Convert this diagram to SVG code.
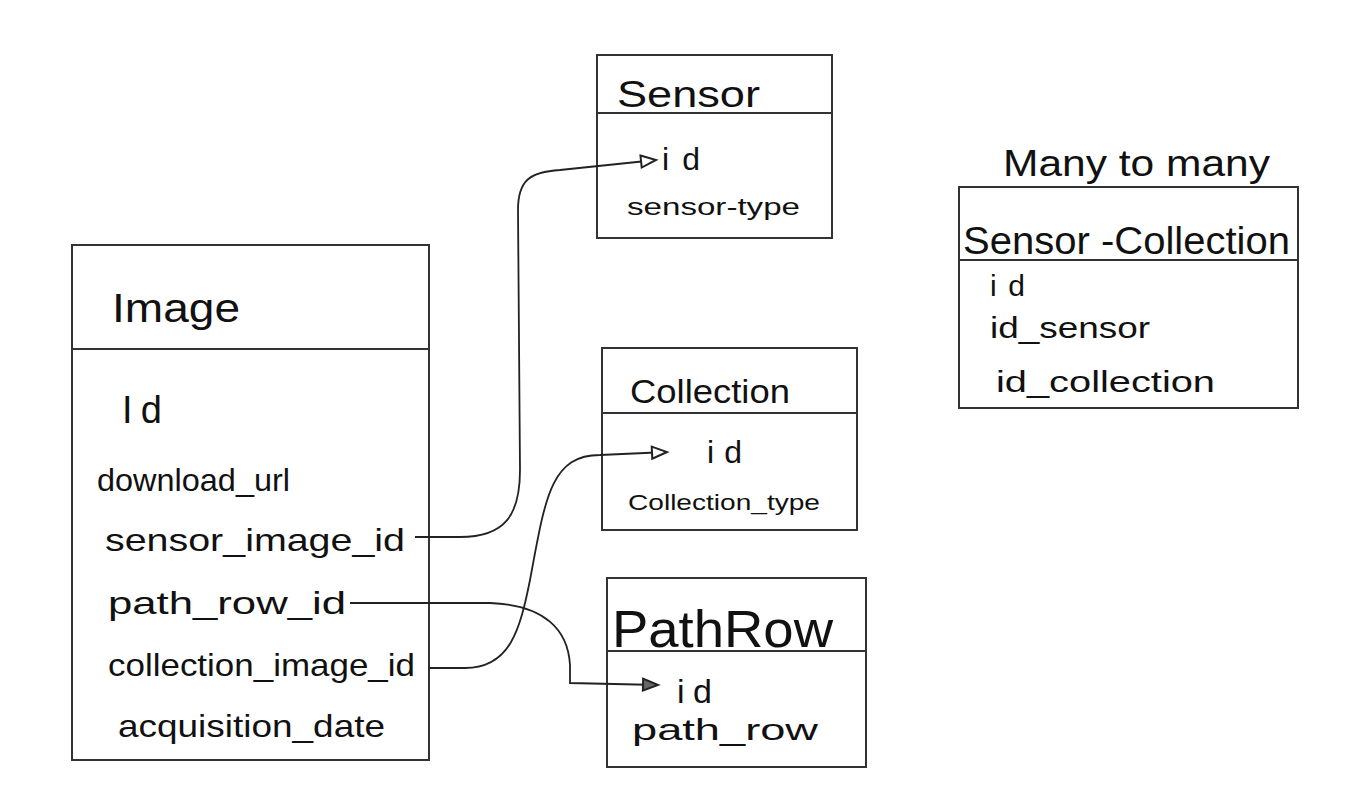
<svg xmlns="http://www.w3.org/2000/svg" width="1367" height="785" viewBox="0 0 1367 785">
<style>
.box{fill:#fff;stroke:#333;stroke-width:2}
.div{stroke:#333;stroke-width:2}
.t{font-family:"Liberation Sans",Arial,sans-serif;fill:#111;font-weight:normal}
.c{fill:none;stroke:#222;stroke-width:1.8}
</style>
<defs>
<marker id="arr" markerWidth="20" markerHeight="16" refX="17" refY="8" orient="auto" markerUnits="userSpaceOnUse">
<path d="M2,2 L17,8 L2,14 Z" fill="#fff" stroke="#222" stroke-width="2"/>
</marker>
<marker id="arrf" markerWidth="20" markerHeight="16" refX="17" refY="8" orient="auto" markerUnits="userSpaceOnUse">
<path d="M2,2 L17,8 L2,14 Z" fill="#666" stroke="#222" stroke-width="2"/>
</marker>
</defs>
<rect width="1367" height="785" fill="#fff"/>

<g id="image">
<rect class="box" x="72" y="245" width="357" height="515"/>
<line class="div" x1="72" y1="349" x2="429" y2="349"/>
<text class="t" x="112" y="322" font-size="40" textLength="128" lengthAdjust="spacingAndGlyphs">Image</text>
<text class="t" x="122" y="423" font-size="38" textLength="40" lengthAdjust="spacing">Id</text>
<text class="t" x="97" y="491" font-size="32" textLength="193" lengthAdjust="spacingAndGlyphs">download_url</text>
<text class="t" x="105" y="551" font-size="32" textLength="300" lengthAdjust="spacingAndGlyphs">sensor_image_id</text>
<text class="t" x="108" y="614" font-size="32" textLength="238" lengthAdjust="spacingAndGlyphs">path_row_id</text>
<text class="t" x="108" y="676" font-size="32" textLength="307" lengthAdjust="spacingAndGlyphs">collection_image_id</text>
<text class="t" x="118" y="737" font-size="32" textLength="267" lengthAdjust="spacingAndGlyphs">acquisition_date</text>
</g>

<g id="sensor">
<rect class="box" x="597" y="55" width="235" height="183"/>
<line class="div" x1="597" y1="113" x2="832" y2="113"/>
<text class="t" x="617" y="107" font-size="36" textLength="143" lengthAdjust="spacingAndGlyphs">Sensor</text>
<text class="t" x="662" y="170" font-size="32" textLength="38" lengthAdjust="spacing">id</text>
<text class="t" x="627" y="215" font-size="24" textLength="173" lengthAdjust="spacingAndGlyphs">sensor-type</text>
</g>

<g id="collection">
<rect class="box" x="602" y="348" width="255" height="182"/>
<line class="div" x1="602" y1="413" x2="857" y2="413"/>
<text class="t" x="630" y="403" font-size="34" textLength="160" lengthAdjust="spacingAndGlyphs">Collection</text>
<text class="t" x="707" y="463" font-size="32" textLength="35" lengthAdjust="spacing">id</text>
<text class="t" x="628" y="510" font-size="22" textLength="192" lengthAdjust="spacingAndGlyphs">Collection_type</text>
</g>

<g id="pathrow">
<rect class="box" x="607" y="578" width="259" height="189"/>
<line class="div" x1="607" y1="651" x2="866" y2="651"/>
<text class="t" x="612" y="647" font-size="52" textLength="221" lengthAdjust="spacingAndGlyphs">PathRow</text>
<text class="t" x="677" y="703" font-size="34" textLength="35" lengthAdjust="spacing">id</text>
<text class="t" x="632" y="740" font-size="30" textLength="186" lengthAdjust="spacingAndGlyphs">path_row</text>
</g>

<g id="sensor-collection">
<text class="t" x="1003" y="176" font-size="36" textLength="267" lengthAdjust="spacingAndGlyphs">Many to many</text>
<rect class="box" x="959" y="187" width="339" height="221"/>
<line class="div" x1="959" y1="260" x2="1298" y2="260"/>
<text class="t" x="963" y="254" font-size="38" textLength="327" lengthAdjust="spacingAndGlyphs">Sensor -Collection</text>
<text class="t" x="990" y="296" font-size="30" textLength="35" lengthAdjust="spacing">id</text>
<text class="t" x="990" y="338" font-size="30" textLength="160" lengthAdjust="spacingAndGlyphs">id_sensor</text>
<text class="t" x="996" y="392" font-size="30" textLength="219" lengthAdjust="spacingAndGlyphs">id_collection</text>
</g>

<g id="connectors">
<path class="c" d="M415,537 L460,537 C505,537 520,515 520,470 L518,210 C518,180 530,172 560,170 L656,160" marker-end="url(#arr)"/>
<path class="c" d="M428,668 L465,668 C510,668 520,630 530,580 C545,500 550,455 600,455 L667,452" marker-end="url(#arr)"/>
<path class="c" d="M350,603 L490,603 C545,605 568,630 570,665 L570,683 L658,685" marker-end="url(#arrf)"/>
</g>
</svg>
